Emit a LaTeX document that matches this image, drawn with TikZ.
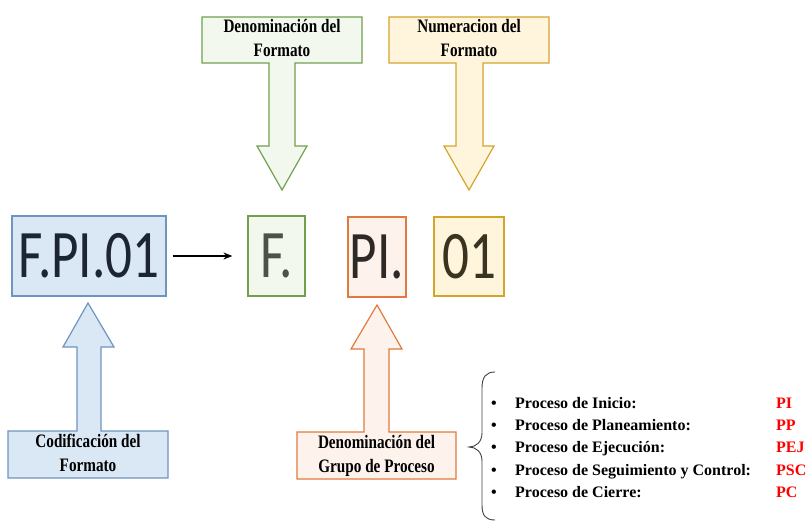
\documentclass[tikz,border=0pt]{standalone}
\usepackage{fontspec}
\setmainfont{Liberation Serif}
\newfontfamily\codefont{Carlito}
\usetikzlibrary{arrows.meta}
\definecolor{bluefill}{HTML}{DAE7F5}
\definecolor{blueline}{HTML}{7094C0}
\definecolor{greenfill}{HTML}{F3F8EF}
\definecolor{greenline}{HTML}{70A050}
\definecolor{yelfill}{HTML}{FFF5DC}
\definecolor{yelline}{HTML}{D4A52C}
\definecolor{orfill}{HTML}{FDF2EC}
\definecolor{orline}{HTML}{E07B40}
\definecolor{codeblue}{HTML}{1B2533}
\definecolor{codegreen}{HTML}{4B524A}
\definecolor{codeor}{HTML}{2E2926}
\definecolor{codeyel}{HTML}{3A3320}
\newcommand{\lbl}[2]{\scalebox{0.8}[1]{\fontsize{19}{24}\selectfont\bfseries\begin{tabular}{@{}c@{}}#1\\#2\end{tabular}}}
\newcommand{\cod}[1]{\scalebox{0.78}[1]{\fontsize{68}{70}\selectfont\codefont #1}}
\tikzset{
  callout/.style={line width=1.2pt},
  codebox/.style={draw, line width=1.2pt, inner sep=0pt, minimum height=80pt},
  lbltext/.style={inner sep=0pt, text=black},
  item/.style={anchor=base west, inner sep=0pt, font=\fontsize{16}{20}\selectfont\bfseries},
  redcode/.style={item, text=red},
}
\begin{document}
\begin{tikzpicture}[x=1pt,y=-1pt]
\useasboundingbox (0,0) rectangle (808,524);
% top green callout
\draw[callout, draw=greenline, fill=greenfill] (202,17) -- (362,17) -- (362,63) -- (295,63) -- (295,146) -- (307,146) -- (282,190) -- (257,146) -- (269,146) -- (269,63) -- (202,63) -- cycle;
\node[lbltext] (lden) at (282,40) {\lbl{Denominación del}{Formato}};
% top yellow callout
\draw[callout, draw=yelline, fill=yelfill] (389,17) -- (549,17) -- (549,63) -- (483,63) -- (483,146) -- (494,146) -- (469,190) -- (444,146) -- (456,146) -- (456,63) -- (389,63) -- cycle;
\node[lbltext] (lnum) at (469,40) {\lbl{Numeracion del}{Formato}};
% bottom blue callout
\draw[callout, draw=blueline, fill=bluefill] (8,431) -- (77,431) -- (77,347) -- (63,347) -- (88,303) -- (114,347) -- (101,347) -- (101,431) -- (168,431) -- (168,478) -- (8,478) -- cycle;
\node[lbltext] (lcod) at (88,455) {\lbl{Codificación del}{Formato}};
% bottom orange callout
\draw[callout, draw=orline, fill=orfill] (297,432) -- (364,432) -- (364,349) -- (351,349) -- (377,305) -- (402,349) -- (389,349) -- (389,432) -- (456,432) -- (456,479) -- (297,479) -- cycle;
\node[lbltext] (lgrp) at (376.5,455.5) {\lbl{Denominación del}{Grupo de Proceso}};
% code boxes
\node[codebox, draw=blueline, fill=bluefill, text=codeblue, minimum width=154pt] (code) at (89,256) {\cod{F.PI.01}};
\node[codebox, draw=greenline, fill=greenfill, text=codegreen, minimum width=57pt] (cf) at (276.5,256) {\cod{F.}};
\node[codebox, draw=orline, fill=orfill, text=codeor, minimum width=58pt] (cpi) at (377,257) {\cod{PI.}};
\node[codebox, draw=yelline, fill=yelfill, text=codeyel, minimum width=70pt, minimum height=79pt] (c01) at (469,256.5) {\cod{01}};
\draw[line width=1.3pt, -{Stealth[length=9pt,width=7pt]}, shorten <=6pt, shorten >=15pt] (code.east) -- (cf.west);
% brace
\coordinate (btop) at (495,372);
\coordinate (bbot) at (495,520);
\coordinate (btip) at (469,447);
\draw[line width=0.9pt, black!75] (btop) .. controls (486,372) and (482,377) .. (482,388) -- (482,433) .. controls (482,442) and (476,447) .. (btip) .. controls (476,447) and (482,452) .. (482,461) -- (482,505) .. controls (482,516) and (486,520) .. (bbot);
% list
\foreach \y/\t/\c [count=\i] in {408/Proceso de Inicio:/PI, 430/Proceso de Planeamiento:/PP, 452/Proceso de Ejecución:/PEJ, 475/Proceso de Seguimiento y Control:/PSC, 497/Proceso de Cierre:/PC}{
  \node[item] (bul\i) at (491,\y) {•};
  \node[item] (it\i) at (515,\y) {\t};
  \node[redcode] (rc\i) at (776,\y) {\c};
}
\end{tikzpicture}
\end{document}
